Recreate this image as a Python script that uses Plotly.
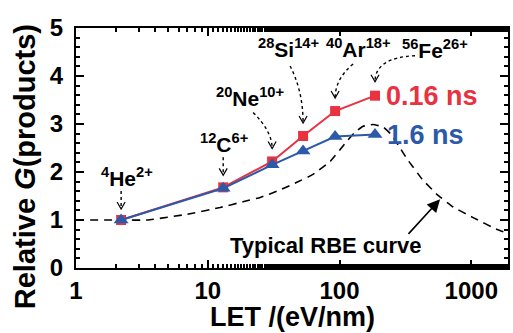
import math
import plotly.graph_objects as go

# ---- data ----
ions = ["He", "C", "Ne", "Si", "Ar", "Fe"]
ion_labels = ["<sup>4</sup>He<sup>2+</sup>", "<sup>12</sup>C<sup>6+</sup>",
              "<sup>20</sup>Ne<sup>10+</sup>", "<sup>28</sup>Si<sup>14+</sup>",
              "<sup>40</sup>Ar<sup>18+</sup>", "<sup>56</sup>Fe<sup>26+</sup>"]
let_values = [2.2, 13.1, 30.8, 52.9, 92.6, 186]
g_016ns = [1.0, 1.68, 2.22, 2.75, 3.27, 3.59]
g_16ns = [1.0, 1.66, 2.15, 2.44, 2.74, 2.78]

rbe_let = [1, 2.2, 3.5, 7, 12.4, 18.5, 25, 35, 47, 63, 85, 112, 130, 150, 180, 214, 245, 279, 326, 424, 551, 729, 1033, 1574, 1900]
rbe_g = [1.0, 1.0, 1.0, 1.12, 1.26, 1.38, 1.47, 1.62, 1.78, 1.95, 2.22, 2.62, 2.82, 2.95, 2.99, 2.94, 2.79, 2.56, 2.27, 1.85, 1.53, 1.27, 1.05, 0.80, 0.72]

x_tick_vals = [1, 10, 100, 1000]
y_tick_vals = [0, 1, 2, 3, 4, 5]

RED = "#e8323f"
BLUE = "#2c5aa8"
FONT = "Liberation Sans"

fig = go.Figure()

fig.add_trace(go.Scatter(x=rbe_let, y=rbe_g, mode="lines",
                         line=dict(color="black", width=1.6, dash="8px,6px", shape="spline", smoothing=0.3),
                         showlegend=False, hoverinfo="skip"))
fig.add_trace(go.Scatter(x=let_values, y=g_016ns, mode="lines+markers",
                         line=dict(color=RED, width=2),
                         marker=dict(symbol="square", size=10, color=RED),
                         showlegend=False))
fig.add_trace(go.Scatter(x=let_values, y=g_16ns, mode="lines+markers",
                         line=dict(color=BLUE, width=2),
                         marker=dict(symbol="triangle-up", size=13, color=BLUE),
                         showlegend=False))

# label offsets (pixels) relative to red markers and dotted arrow paths
label_shift = [(6, 43), (1, 44), (-22, 64), (-15, 88), (23, 63), (60, 47)]
arrow_start = [(0, 29), (0, 30), (-19, 49), (-13, 70), (18, 47), (40, 40)]
arrow_ctrl = [None, None, (0, 30), (0, 45), (0, 32), (0, 38)]
arrow_end = [11, 12, 13, 13, 13, 14]
for i in range(len(ions)):
    lx, ly = let_values[i], g_016ns[i]
    dx, dy = label_shift[i]
    fig.add_annotation(x=math.log10(lx), y=ly, xref="x", yref="y", text=ion_labels[i],
                       showarrow=False, xshift=dx, yshift=dy, xanchor="center", yanchor="middle",
                       font=dict(family=FONT, size=21, color="black", weight="bold"))
    sx, sy = arrow_start[i]
    if arrow_ctrl[i] is None:
        path = "M {},{} L 0,{}".format(sx, sy, arrow_end[i])
    else:
        cx, cy = arrow_ctrl[i]
        path = "M {},{} Q {},{} 0,{}".format(sx, sy, cx, cy, arrow_end[i])
    fig.add_shape(type="path", xref="x", yref="y", xsizemode="pixel", ysizemode="pixel",
                  xanchor=lx, yanchor=ly, path=path,
                  line=dict(color="black", width=1.4, dash="dot"))
    e = arrow_end[i]
    fig.add_shape(type="path", xref="x", yref="y", xsizemode="pixel", ysizemode="pixel",
                  xanchor=lx, yanchor=ly,
                  path="M -4,{a} L 0,{b} L 4,{a}".format(a=e + 7, b=e),
                  line=dict(color="black", width=1.2))

# series labels
fig.add_annotation(x=math.log10(let_values[-1]), y=g_016ns[-1], text="0.16 ns", showarrow=False,
                   xanchor="left", yanchor="middle", xshift=9, yshift=0,
                   font=dict(family=FONT, size=27, color=RED, weight="bold"))
fig.add_annotation(x=math.log10(let_values[-1]), y=g_16ns[-1], text="1.6 ns", showarrow=False,
                   xanchor="left", yanchor="middle", xshift=10, yshift=0,
                   font=dict(family=FONT, size=27, color=BLUE, weight="bold"))

# Typical RBE curve label + arrow
fig.add_annotation(x=math.log10(580), y=1.43, text="", showarrow=True, ax=-33, ay=36,
                   arrowhead=2, arrowsize=1.6, arrowwidth=1.6, arrowcolor="black")
fig.add_annotation(x=math.log10(79), y=0.46, text="Typical RBE curve", showarrow=False,
                   xanchor="center", yanchor="middle",
                   font=dict(family=FONT, size=22, color="black", weight="bold"))

# axis titles placed as paper annotations
fig.add_annotation(x=0.5, y=-0.205, xref="paper", yref="paper", text="LET /(eV/nm)",
                   showarrow=False, xanchor="center", yanchor="middle",
                   font=dict(family=FONT, size=27, color="black", weight="bold"))
fig.add_annotation(x=-0.118, y=0.42, xref="paper", yref="paper", text="Relative <i>G</i>(products)",
                   showarrow=False, xanchor="center", yanchor="middle", textangle=-90,
                   font=dict(family=FONT, size=29, color="black", weight="bold"))

axis_common = dict(showline=True, linewidth=2, linecolor="black", mirror="ticks",
                   ticks="inside", tickwidth=2, tickcolor="black", showgrid=False, zeroline=False,
                   automargin=False)

fig.update_xaxes(type="log", range=[0, math.log10(1900)], tickvals=x_tick_vals,
                 ticktext=[str(v) for v in x_tick_vals], ticklen=8,
                 tickfont=dict(family=FONT, size=24, color="black", weight="bold"),
                 minor=dict(ticks="inside", ticklen=4, tickwidth=1.5, tickcolor="black", showgrid=False),
                 **axis_common)
fig.update_yaxes(range=[0, 5], tickvals=y_tick_vals, ticklen=8, ticklabelstandoff=6,
                 tickfont=dict(family=FONT, size=24, color="black", weight="bold"),
                 minor=dict(ticks="inside", ticklen=4, tickwidth=1.5, tickcolor="black", dtick=0.2, showgrid=False),
                 **axis_common)

fig.update_layout(width=513, height=333, margin=dict(l=76, r=5, t=28, b=65),
                  paper_bgcolor="white", plot_bgcolor="white", showlegend=False)

fig.write_html("out.html", config={"displayModeBar": False},
               post_script="document.body.style.margin='0';")
